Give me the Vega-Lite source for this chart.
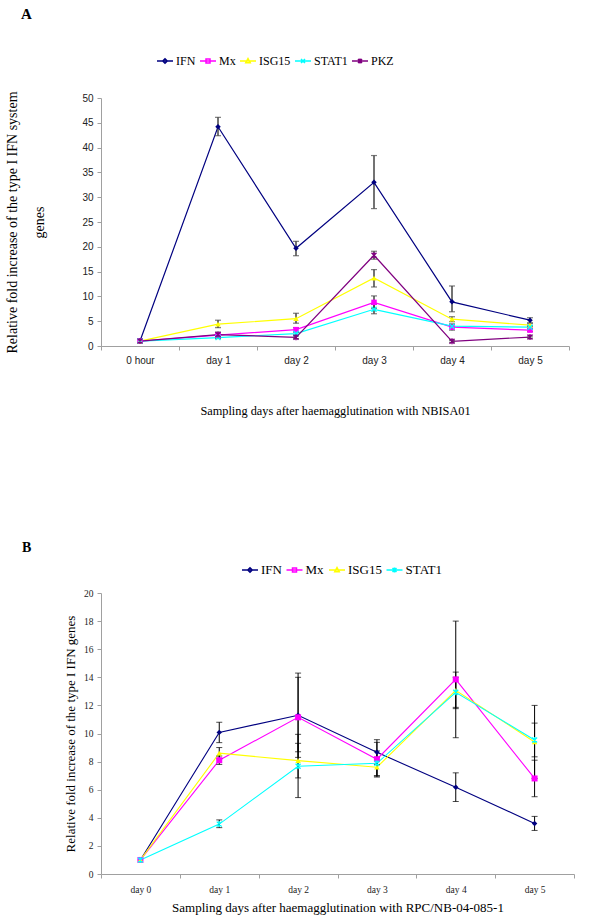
{
  "$schema": "https://vega.github.io/schema/vega-lite/v6.json",
  "background": "white",
  "padding": {"left": 5, "top": 7, "right": 5, "bottom": 5},
  "config": {
    "view": {"stroke": null},
    "axis": {"grid": false, "domainColor": "#a0a0a0", "tickColor": "#a0a0a0", "labelColor": "#222222", "titleColor": "#000000", "titleFontWeight": "normal", "tickSize": 4}
  },
  "resolve": {
    "scale": {"x": "independent", "y": "independent", "color": "independent", "shape": "independent", "stroke": "independent"},
    "legend": {"color": "independent", "shape": "independent"}
  },
  "spacing": 124,
  "vconcat": [
    {
      "title": {"text": "A", "anchor": "start", "frame": "group", "font": "Liberation Serif", "fontSize": 15, "fontWeight": "bold", "dx": -80, "offset": 30},
      "width": 468,
      "height": 248,
      "data": {
        "values": [
          {"gene": "IFN", "day": "0 hour", "value": 1},
          {"gene": "IFN", "day": "day 1", "value": 44.2, "lo": 42.4, "hi": 46.1},
          {"gene": "IFN", "day": "day 2", "value": 19.7, "lo": 18.2, "hi": 21.1},
          {"gene": "IFN", "day": "day 3", "value": 33.0, "lo": 27.7, "hi": 38.4},
          {"gene": "IFN", "day": "day 4", "value": 8.9, "lo": 6.9, "hi": 12.1},
          {"gene": "IFN", "day": "day 5", "value": 5.2, "lo": 4.7, "hi": 5.7},
          {"gene": "Mx", "day": "0 hour", "value": 1},
          {"gene": "Mx", "day": "day 1", "value": 2.2, "lo": 1.9, "hi": 2.6},
          {"gene": "Mx", "day": "day 2", "value": 3.3, "lo": 2.9, "hi": 3.7},
          {"gene": "Mx", "day": "day 3", "value": 8.8, "lo": 7.6, "hi": 10.1},
          {"gene": "Mx", "day": "day 4", "value": 3.8, "lo": 3.2, "hi": 4.4},
          {"gene": "Mx", "day": "day 5", "value": 3.2, "lo": 2.9, "hi": 3.5},
          {"gene": "ISG15", "day": "0 hour", "value": 1},
          {"gene": "ISG15", "day": "day 1", "value": 4.4, "lo": 3.7, "hi": 5.2},
          {"gene": "ISG15", "day": "day 2", "value": 5.5, "lo": 4.6, "hi": 6.6},
          {"gene": "ISG15", "day": "day 3", "value": 13.7, "lo": 11.9, "hi": 15.4},
          {"gene": "ISG15", "day": "day 4", "value": 5.4, "lo": 4.9, "hi": 5.9},
          {"gene": "ISG15", "day": "day 5", "value": 4.2, "lo": 3.9, "hi": 4.5},
          {"gene": "STAT1", "day": "0 hour", "value": 1},
          {"gene": "STAT1", "day": "day 1", "value": 1.7, "lo": 1.5, "hi": 1.9},
          {"gene": "STAT1", "day": "day 2", "value": 2.5, "lo": 2.2, "hi": 2.8},
          {"gene": "STAT1", "day": "day 3", "value": 7.4, "lo": 6.5, "hi": 8.4},
          {"gene": "STAT1", "day": "day 4", "value": 4.0, "lo": 3.6, "hi": 4.4},
          {"gene": "STAT1", "day": "day 5", "value": 3.8, "lo": 3.5, "hi": 4.1},
          {"gene": "PKZ", "day": "0 hour", "value": 1},
          {"gene": "PKZ", "day": "day 1", "value": 2.3, "lo": 1.9, "hi": 2.8},
          {"gene": "PKZ", "day": "day 2", "value": 1.75, "lo": 1.5, "hi": 2.0},
          {"gene": "PKZ", "day": "day 3", "value": 18.3, "lo": 17.5, "hi": 19.1},
          {"gene": "PKZ", "day": "day 4", "value": 0.95, "lo": 0.75, "hi": 1.15},
          {"gene": "PKZ", "day": "day 5", "value": 1.8, "lo": 1.6, "hi": 2.0}
        ]
      },
      "encoding": {
        "x": {
          "field": "day", "type": "ordinal",
          "sort": ["0 hour", "day 1", "day 2", "day 3", "day 4", "day 5"],
          "scale": {"type": "band", "paddingInner": 0, "paddingOuter": 0},
          "axis": {
            "title": "Sampling days after haemagglutination with NBISA01",
            "titleFont": "Liberation Serif", "titleFontSize": 12.3, "titlePadding": 39,
            "labelFont": "Liberation Sans", "labelFontSize": 10, "labelAngle": 0, "labelPadding": 5,
            "tickBand": "extent"
          }
        },
        "y": {
          "field": "value", "type": "quantitative",
          "scale": {"domain": [0, 50]},
          "axis": {
            "title": ["Relative fold increase of the type I IFN system", "genes"],
            "titleFont": "Liberation Serif", "titleFontSize": 14, "titleLineHeight": 27, "titlePadding": 35,
            "labelFont": "Liberation Sans", "labelFontSize": 10, "tickCount": 10, "labelPadding": 4
          }
        }
      },
      "layer": [
        {
          "mark": {"type": "line", "strokeWidth": 1.2},
          "encoding": {
            "stroke": {
              "field": "gene", "type": "nominal", "legend": null,
              "scale": {"domain": ["PKZ", "STAT1", "ISG15", "Mx", "IFN"], "range": ["#800080", "#00FFFF", "#FFFF00", "#FF00FF", "#000080"]}
            }
          }
        },
        {
          "transform": [{"filter": "isValid(datum.lo)"}],
          "mark": {"type": "rule", "color": "#444444", "strokeWidth": 1.5},
          "encoding": {
            "y": {"field": "lo", "type": "quantitative"},
            "y2": {"field": "hi"}
          }
        },
        {
          "transform": [{"filter": "isValid(datum.lo)"}],
          "mark": {"type": "tick", "color": "#444444", "thickness": 1.2, "size": 6, "orient": "horizontal"},
          "encoding": {"y": {"field": "lo", "type": "quantitative"}}
        },
        {
          "transform": [{"filter": "isValid(datum.hi)"}],
          "mark": {"type": "tick", "color": "#444444", "thickness": 1.2, "size": 6, "orient": "horizontal"},
          "encoding": {"y": {"field": "hi", "type": "quantitative"}}
        },
        {
          "transform": [{"filter": "datum.gene === 'IFN'"}],
          "mark": {"type": "point", "shape": "diamond", "filled": true, "size": 30, "color": "#000080", "opacity": 1},
          "encoding": {}
        },
        {
          "transform": [{"filter": "datum.gene === 'Mx'"}],
          "mark": {"type": "point", "shape": "square", "filled": true, "size": 30, "color": "#FF00FF", "opacity": 1},
          "encoding": {}
        },
        {
          "transform": [{"filter": "datum.gene === 'ISG15'"}],
          "mark": {"type": "point", "shape": "triangle-up", "filled": true, "size": 30, "color": "#FFFF00", "opacity": 1},
          "encoding": {}
        },
        {
          "transform": [{"filter": "datum.gene === 'STAT1'"}],
          "mark": {"type": "point", "shape": "M-1,-1L1,1M-1,1L1,-1", "filled": false, "size": 25, "strokeWidth": 1.4, "color": "#00FFFF", "opacity": 1},
          "encoding": {}
        },
        {
          "transform": [{"filter": "datum.gene === 'PKZ'"}],
          "mark": {"type": "point", "shape": "M-1,-1L1,1M-1,1L1,-1M0,-1.2V1.2", "filled": false, "size": 25, "strokeWidth": 1.4, "color": "#800080", "opacity": 1},
          "encoding": {}
        },
        {
          "transform": [{"filter": "datum.value < -1000"}],
          "mark": {"type": "point", "filled": false, "size": 256, "strokeWidth": 1.5, "opacity": 1},
          "encoding": {
            "color": {
              "field": "gene", "type": "nominal",
              "scale": {"domain": ["IFN", "Mx", "ISG15", "STAT1", "PKZ"], "range": ["#000080", "#FF00FF", "#FFFF00", "#00FFFF", "#800080"]},
              "legend": {
                "title": null, "orient": "none", "direction": "horizontal", "legendX": 55, "legendY": -46,
                "labelFont": "Liberation Serif", "labelFontSize": 12, "labelColor": "#000000", "labelOffset": 2,
                "columnPadding": 1, "symbolSize": 256, "symbolStrokeWidth": 1.5, "symbolOpacity": 1
              }
            },
            "shape": {
              "field": "gene", "type": "nominal",
              "scale": {
                "domain": ["IFN", "Mx", "ISG15", "STAT1", "PKZ"],
                "range": [
                  "M-1,0H1M0,-0.28L0.28,0L0,0.28L-0.28,0Z",
                  "M-1,0H1M-0.25,-0.25H0.25V0.25H-0.25Z",
                  "M-1,0H1M0,-0.3L0.28,0.22H-0.28Z",
                  "M-1,0H1M-0.25,-0.25L0.25,0.25M-0.25,0.25L0.25,-0.25",
                  "M-1,0H1M-0.25,-0.25L0.25,0.25M-0.25,0.25L0.25,-0.25M0,-0.3V0.3"
                ]
              },
              "legend": {
                "title": null, "orient": "none", "direction": "horizontal", "legendX": 55, "legendY": -46,
                "labelFont": "Liberation Serif", "labelFontSize": 12, "labelColor": "#000000", "labelOffset": 2,
                "columnPadding": 1, "symbolSize": 256, "symbolStrokeWidth": 1.5, "symbolOpacity": 1
              }
            }
          }
        }
      ]
    },
    {
      "title": {"text": "B", "anchor": "start", "frame": "group", "font": "Liberation Serif", "fontSize": 14, "fontWeight": "bold", "dx": -79, "offset": 6},
      "width": 473,
      "height": 281,
      "data": {
        "values": [
          {"gene": "IFN", "day": "day 0", "value": 1},
          {"gene": "IFN", "day": "day 1", "value": 10.08, "lo": 9.35, "hi": 10.8},
          {"gene": "IFN", "day": "day 2", "value": 11.3, "lo": 8.7, "hi": 14.3},
          {"gene": "IFN", "day": "day 3", "value": 8.66, "lo": 7.8, "hi": 9.56},
          {"gene": "IFN", "day": "day 4", "value": 6.18, "lo": 5.16, "hi": 7.2},
          {"gene": "IFN", "day": "day 5", "value": 3.6, "lo": 3.1, "hi": 4.1},
          {"gene": "Mx", "day": "day 0", "value": 1},
          {"gene": "Mx", "day": "day 1", "value": 8.1, "lo": 7.8, "hi": 8.4},
          {"gene": "Mx", "day": "day 2", "value": 11.15, "lo": 8.3, "hi": 14.0},
          {"gene": "Mx", "day": "day 3", "value": 8.17, "lo": 6.97, "hi": 9.37},
          {"gene": "Mx", "day": "day 4", "value": 13.85, "lo": 9.7, "hi": 18.0},
          {"gene": "Mx", "day": "day 5", "value": 6.8, "lo": 5.5, "hi": 8.1},
          {"gene": "ISG15", "day": "day 0", "value": 1},
          {"gene": "ISG15", "day": "day 1", "value": 8.6, "lo": 8.2, "hi": 9.0},
          {"gene": "ISG15", "day": "day 2", "value": 8.07, "lo": 6.84, "hi": 9.3},
          {"gene": "ISG15", "day": "day 3", "value": 7.6, "lo": 6.9, "hi": 8.3},
          {"gene": "ISG15", "day": "day 4", "value": 13.07, "lo": 11.77, "hi": 14.37},
          {"gene": "ISG15", "day": "day 5", "value": 9.4, "lo": 6.8, "hi": 12.0},
          {"gene": "STAT1", "day": "day 0", "value": 1},
          {"gene": "STAT1", "day": "day 1", "value": 3.55, "lo": 3.3, "hi": 3.85},
          {"gene": "STAT1", "day": "day 2", "value": 7.67, "lo": 5.44, "hi": 9.94},
          {"gene": "STAT1", "day": "day 3", "value": 7.88, "lo": 7.0, "hi": 8.76},
          {"gene": "STAT1", "day": "day 4", "value": 12.93, "lo": 11.86, "hi": 14.0},
          {"gene": "STAT1", "day": "day 5", "value": 9.54, "lo": 8.34, "hi": 10.74}
        ]
      },
      "encoding": {
        "x": {
          "field": "day", "type": "ordinal",
          "sort": ["day 0", "day 1", "day 2", "day 3", "day 4", "day 5"],
          "scale": {"type": "band", "paddingInner": 0, "paddingOuter": 0},
          "axis": {
            "title": "Sampling days after haemagglutination with RPC/NB-04-085-1",
            "titleFont": "Liberation Serif", "titleFontSize": 13, "titlePadding": 8,
            "labelFont": "Liberation Serif", "labelFontSize": 9.5, "labelAngle": 0, "labelPadding": 6,
            "tickBand": "extent"
          }
        },
        "y": {
          "field": "value", "type": "quantitative",
          "scale": {"domain": [0, 20]},
          "axis": {
            "title": "Relative fold increase of the type I IFN genes",
            "titleFont": "Liberation Serif", "titleFontSize": 13, "titlePadding": 6,
            "labelFont": "Liberation Serif", "labelFontSize": 9.5, "tickCount": 10, "labelPadding": 4
          }
        }
      },
      "layer": [
        {
          "mark": {"type": "line", "strokeWidth": 1.1},
          "encoding": {
            "stroke": {
              "field": "gene", "type": "nominal", "legend": null,
              "scale": {"domain": ["STAT1", "ISG15", "Mx", "IFN"], "range": ["#00FFFF", "#FFFF00", "#FF00FF", "#000080"]}
            }
          }
        },
        {
          "transform": [{"filter": "isValid(datum.lo)"}],
          "mark": {"type": "rule", "color": "#000000", "strokeWidth": 1},
          "encoding": {
            "y": {"field": "lo", "type": "quantitative"},
            "y2": {"field": "hi"}
          }
        },
        {
          "transform": [{"filter": "isValid(datum.lo)"}],
          "mark": {"type": "tick", "color": "#000000", "thickness": 1, "size": 6, "orient": "horizontal"},
          "encoding": {"y": {"field": "lo", "type": "quantitative"}}
        },
        {
          "transform": [{"filter": "isValid(datum.hi)"}],
          "mark": {"type": "tick", "color": "#000000", "thickness": 1, "size": 6, "orient": "horizontal"},
          "encoding": {"y": {"field": "hi", "type": "quantitative"}}
        },
        {
          "transform": [{"filter": "datum.gene === 'IFN'"}],
          "mark": {"type": "point", "shape": "diamond", "filled": true, "size": 30, "color": "#000080", "opacity": 1},
          "encoding": {}
        },
        {
          "transform": [{"filter": "datum.gene === 'Mx'"}],
          "mark": {"type": "point", "shape": "square", "filled": true, "size": 36, "color": "#FF00FF", "opacity": 1},
          "encoding": {}
        },
        {
          "transform": [{"filter": "datum.gene === 'ISG15'"}],
          "mark": {"type": "point", "shape": "triangle-up", "filled": true, "size": 30, "color": "#FFFF00", "opacity": 1},
          "encoding": {}
        },
        {
          "transform": [{"filter": "datum.gene === 'STAT1'"}],
          "mark": {"type": "point", "shape": "M-1,-1L1,1M-1,1L1,-1M0,-1.2V1.2", "filled": false, "size": 25, "strokeWidth": 1.3, "color": "#00FFFF", "opacity": 1},
          "encoding": {}
        },
        {
          "transform": [{"filter": "datum.value < -1000"}],
          "mark": {"type": "point", "filled": false, "size": 256, "strokeWidth": 1.5, "opacity": 1},
          "encoding": {
            "color": {
              "field": "gene", "type": "nominal",
              "scale": {"domain": ["IFN", "Mx", "ISG15", "STAT1"], "range": ["#000080", "#FF00FF", "#FFFF00", "#00FFFF"]},
              "legend": {
                "title": null, "orient": "none", "direction": "horizontal", "legendX": 140, "legendY": -32,
                "labelFont": "Liberation Serif", "labelFontSize": 13, "labelColor": "#000000", "labelOffset": 2,
                "columnPadding": 1.5, "symbolSize": 256, "symbolStrokeWidth": 1.5, "symbolOpacity": 1
              }
            },
            "shape": {
              "field": "gene", "type": "nominal",
              "scale": {
                "domain": ["IFN", "Mx", "ISG15", "STAT1"],
                "range": [
                  "M-1,0H1M0,-0.28L0.28,0L0,0.28L-0.28,0Z",
                  "M-1,0H1M-0.25,-0.25H0.25V0.25H-0.25Z",
                  "M-1,0H1M0,-0.3L0.28,0.22H-0.28Z",
                  "M-1,0H1M-0.25,-0.25L0.25,0.25M-0.25,0.25L0.25,-0.25M0,-0.3V0.3"
                ]
              },
              "legend": {
                "title": null, "orient": "none", "direction": "horizontal", "legendX": 140, "legendY": -32,
                "labelFont": "Liberation Serif", "labelFontSize": 13, "labelColor": "#000000", "labelOffset": 2,
                "columnPadding": 1.5, "symbolSize": 256, "symbolStrokeWidth": 1.5, "symbolOpacity": 1
              }
            }
          }
        }
      ]
    }
  ]
}
